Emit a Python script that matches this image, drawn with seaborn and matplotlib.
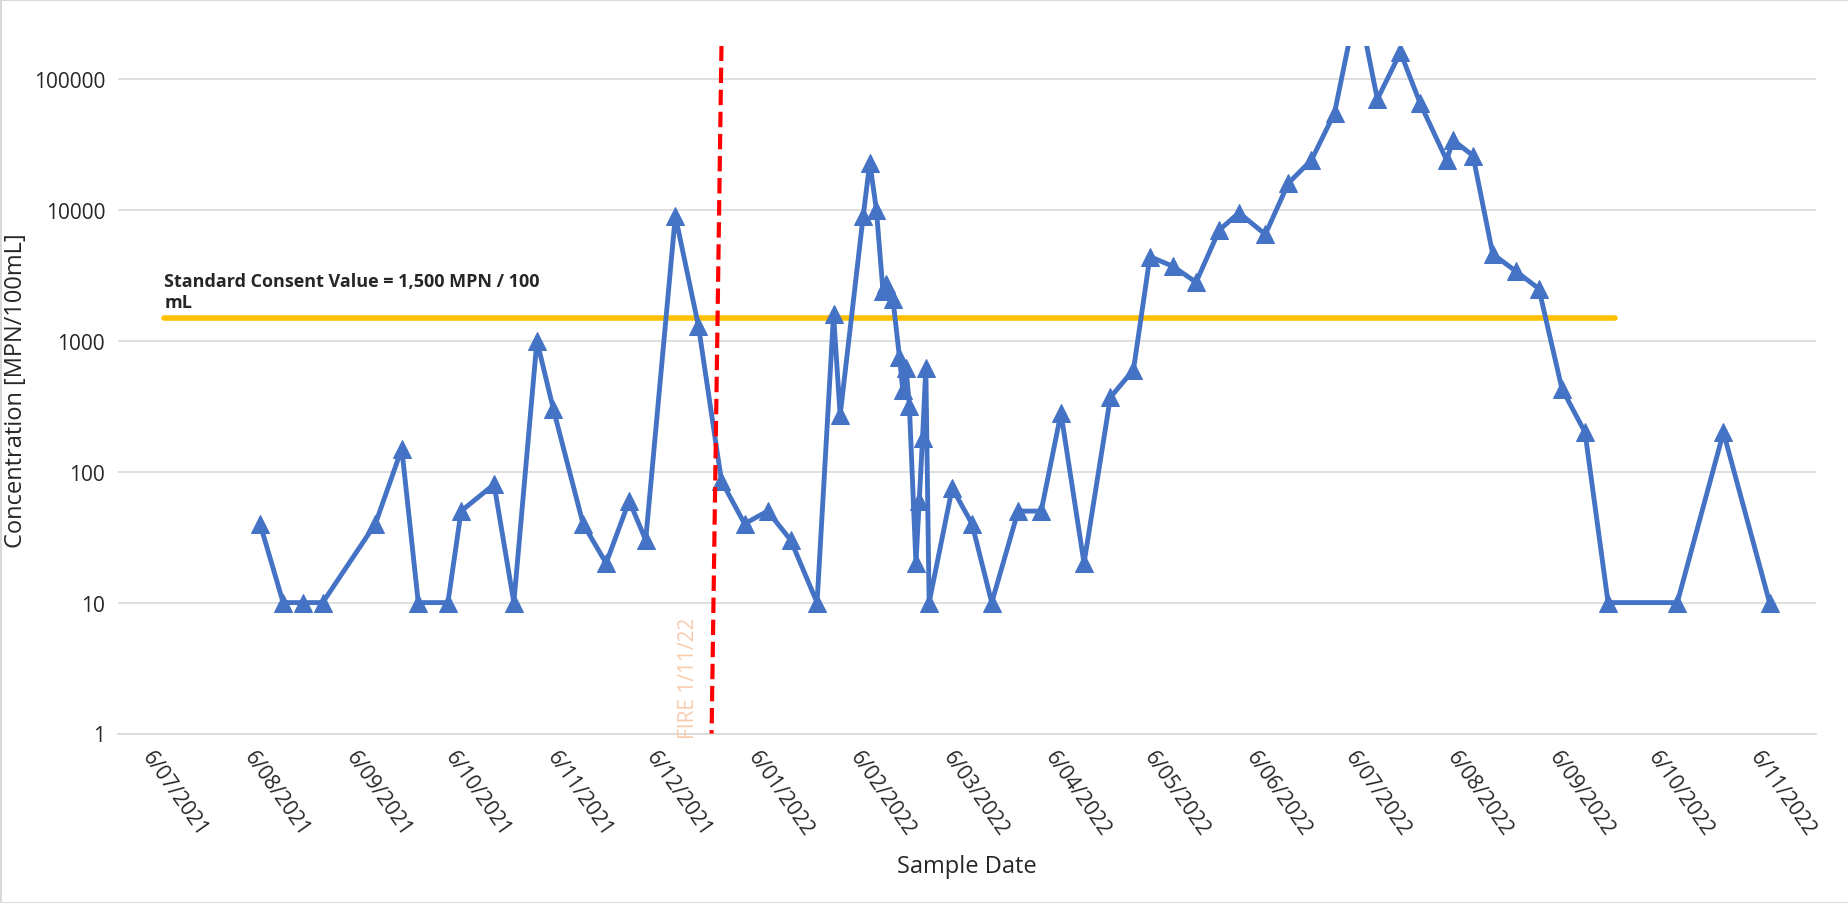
import matplotlib
matplotlib.use("Agg")
import matplotlib.pyplot as plt
import seaborn as sns
import pandas as pd
import numpy as np

dates = ["2021-08-02","2021-08-09","2021-08-15","2021-08-21","2021-09-06","2021-09-14","2021-09-19",
"2021-09-28","2021-10-02","2021-10-12","2021-10-18","2021-10-25","2021-10-30","2021-11-08","2021-11-15",
"2021-11-22","2021-11-27","2021-12-06","2021-12-13","2021-12-20","2021-12-27","2022-01-03","2022-01-10",
"2022-01-18","2022-01-23","2022-01-25","2022-02-01","2022-02-03","2022-02-05","2022-02-07","2022-02-08",
"2022-02-10","2022-02-12","2022-02-13","2022-02-14","2022-02-15","2022-02-17","2022-02-18","2022-02-19",
"2022-02-20","2022-02-21","2022-02-28","2022-03-06","2022-03-12","2022-03-20","2022-03-27","2022-04-02",
"2022-04-09","2022-04-17","2022-04-24","2022-04-29","2022-05-06","2022-05-13","2022-05-20","2022-05-26",
"2022-06-03","2022-06-10","2022-06-17","2022-06-24","2022-07-01","2022-07-07","2022-07-14","2022-07-20",
"2022-07-28","2022-07-30","2022-08-05","2022-08-11","2022-08-18","2022-08-25","2022-09-01","2022-09-08",
"2022-09-15","2022-10-06","2022-10-20","2022-11-03"]
values = [40,10,10,10,40,150,10,10,50,80,10,1000,300,40,20,60,30,9000,1300,85,40,50,30,10,1600,270,
9000,23000,10000,2400,2700,2100,750,420,620,320,20,60,180,620,10,75,40,10,50,50,280,20,370,600,4400,
3700,2800,7000,9500,6500,16000,24000,55000,400000,70000,160000,65000,24000,34000,26000,4600,3400,2500,
430,200,10,10,200,10]
standard_value = 1500
standard_span = ["2021-07-04", "2022-09-17"]
fire_line = ["2021-12-20", "2021-12-17"]
tick_months = pd.date_range("2021-07-01", "2022-11-01", freq="MS")
tick_labels = ["6/" + d.strftime("%m/%Y") for d in tick_months]

sns.set_theme(style="whitegrid")
plt.rcParams["font.family"] = ["Open Sans", "DejaVu Sans"]

df = pd.DataFrame({"date": pd.to_datetime(dates), "value": values})
fig = plt.figure(figsize=(18.49, 9.04), dpi=100)
fig.patch.set_edgecolor("#D9D9D9")
fig.patch.set_linewidth(2)
ax = fig.add_axes([0.064, 0.1875, 0.918, 0.761])
sns.lineplot(data=df, x="date", y="value", ax=ax, color="#4472C4", linewidth=3.5,
             marker="^", markersize=13, markeredgecolor="#4472C4")
ax.set_yscale("log")
ax.set_ylim(1, 180000)
ax.set_xlim(pd.Timestamp("2021-06-20"), pd.Timestamp("2022-11-17"))
ax.plot(pd.to_datetime(standard_span), [standard_value]*2, color="#FFC000", linewidth=4, zorder=1)
ax.text(pd.Timestamp("2021-07-04"), 1700, "Standard Consent Value = 1,500 MPN / 100\nmL",
        fontsize=13, fontweight="bold", va="bottom", linespacing=1.2)
ax.plot(pd.to_datetime(fire_line), [180000, 1], color="red", linestyle="--", linewidth=3, zorder=3)
ax.text(pd.Timestamp("2021-12-10"), 0.93, "FIRE 1/11/22", rotation=90, color="#F8CBAD",
        fontsize=15, va="bottom", ha="center", clip_on=False)
ax.set_yticks([1,10,100,1000,10000,100000])
ax.set_yticklabels(["1","10","100","1000","10000","100000"], fontsize=15)
ax.minorticks_off()
ax.set_xticks(tick_months)
ax.set_xticklabels(tick_labels, rotation=-55, ha="left", rotation_mode="anchor", fontsize=15)
ax.grid(axis="x", visible=False)
ax.grid(axis="y", color="#D9D9D9", linewidth=1.2)
for s in ["top","right","left"]:
    ax.spines[s].set_visible(False)
ax.spines["bottom"].set_color("#D9D9D9")
ax.set_xlabel("Sample Date", fontsize=17, labelpad=10)
ax.set_ylabel("Concentration [MPN/100mL]", fontsize=17)
fig.savefig("out.png", dpi=100, edgecolor=fig.get_edgecolor())
